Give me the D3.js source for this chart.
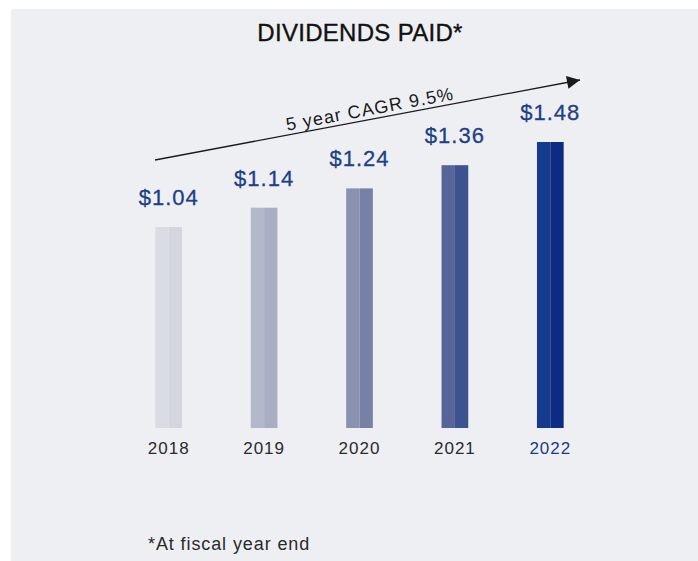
<!DOCTYPE html>
<html>
<head>
<meta charset="utf-8">
<script src="https://cdn.jsdelivr.net/npm/d3@7"></script>
<style>
  body { margin: 0; background: #fff; }
  svg { display: block; }
</style>
</head>
<body>
<script>
var width = 698;
var height = 561;

var years = ["2018", "2019", "2020", "2021", "2022"];
var dividends = [1.04, 1.14, 1.24, 1.36, 1.48];
var labels = ["$1.04", "$1.14", "$1.24", "$1.36", "$1.48"];
var lightColors = ["#dadce4", "#b4b8cb", "#8a91b1", "#56649a", "#163a8e"];
var darkColors = ["#d3d6df", "#a9aec4", "#7980a6", "#3f5290", "#0c2c84"];

var svg = d3.select("body")
    .append("svg")
    .attr("width", width)
    .attr("height", height)
    .style("font-family", "'Liberation Sans', Arial, sans-serif");

// panel
svg.append("rect")
    .attr("x", 11)
    .attr("y", 9)
    .attr("width", width - 11)
    .attr("height", height - 9)
    .attr("fill", "#eeeff3");

svg.append("text")
    .attr("x", 360)
    .attr("y", 41)
    .attr("text-anchor", "middle")
    .attr("font-size", "24px")
    .attr("letter-spacing", "0.3px")
    .attr("fill", "#111")
    .attr("stroke", "#111")
    .attr("stroke-width", 0.35)
    .text("DIVIDENDS PAID*");

var x = d3.scaleBand()
    .domain(years)
    .range([121, 598])
    .paddingInner(0.72)
    .paddingOuter(0.36);

var y = d3.scaleLinear()
    .domain([0, 1.48])
    .range([428, 142]);

var bw = x.bandwidth();

var bars = svg.selectAll("g.bar")
    .data(years)
    .enter()
    .append("g")
    .attr("class", "bar");

bars.append("rect")
    .attr("x", function(d) { return x(d); })
    .attr("y", function(d, i) { return y(dividends[i]); })
    .attr("width", bw / 2)
    .attr("height", function(d, i) { return y(0) - y(dividends[i]); })
    .attr("fill", function(d, i) { return lightColors[i]; });

bars.append("rect")
    .attr("x", function(d) { return x(d) + bw / 2; })
    .attr("y", function(d, i) { return y(dividends[i]); })
    .attr("width", bw / 2)
    .attr("height", function(d, i) { return y(0) - y(dividends[i]); })
    .attr("fill", function(d, i) { return darkColors[i]; });

bars.append("text")
    .attr("x", function(d) { return x(d) + bw / 2; })
    .attr("y", function(d, i) { return y(dividends[i]) - 22; })
    .attr("text-anchor", "middle")
    .attr("font-size", "22px")
    .attr("letter-spacing", "1px")
    .attr("fill", "#213f85")
    .attr("stroke", "#213f85")
    .attr("stroke-width", 0.3)
    .text(function(d, i) { return labels[i]; });

var xAxis = svg.append("g")
    .attr("transform", "translate(0," + y(0) + ")")
    .call(d3.axisBottom(x).tickSize(0).tickPadding(14));
xAxis.select(".domain").remove();
xAxis.selectAll("text")
    .attr("font-size", "17px")
    .attr("letter-spacing", "1px")
    .attr("font-family", "'Liberation Sans', Arial, sans-serif")
    .attr("fill", function(d) { return d === "2022" ? "#1c3a84" : "#2a2a2a"; });

// CAGR arrow
var defs = svg.append("defs");
defs.append("marker")
    .attr("id", "arrowhead")
    .attr("viewBox", "0 0 10 10")
    .attr("refX", 10)
    .attr("refY", 5)
    .attr("markerWidth", 18)
    .attr("markerHeight", 13)
    .attr("markerUnits", "userSpaceOnUse")
    .attr("orient", "auto")
    .append("path")
    .attr("d", "M0,0 L10,5 L0,10 Z")
    .attr("fill", "#1a1a1a");

var ax1 = 155, ay1 = 160, ax2 = 580, ay2 = 80;
svg.append("line")
    .attr("x1", ax1).attr("y1", ay1)
    .attr("x2", ax2).attr("y2", ay2)
    .attr("stroke", "#1a1a1a")
    .attr("stroke-width", 1.3)
    .attr("marker-end", "url(#arrowhead)");

var angle = Math.atan2(ay2 - ay1, ax2 - ax1) * 180 / Math.PI;
svg.append("text")
    .attr("transform", "translate(371,115) rotate(" + angle + ")")
    .attr("text-anchor", "middle")
    .attr("font-size", "18px")
    .attr("letter-spacing", "1.1px")
    .attr("fill", "#1a1a1a")
    .text("5 year CAGR 9.5%");

svg.append("text")
    .attr("x", 148)
    .attr("y", 550)
    .attr("font-size", "18px")
    .attr("letter-spacing", "0.9px")
    .attr("fill", "#2a2a2a")
    .text("*At fiscal year end");
</script>
</body>
</html>
